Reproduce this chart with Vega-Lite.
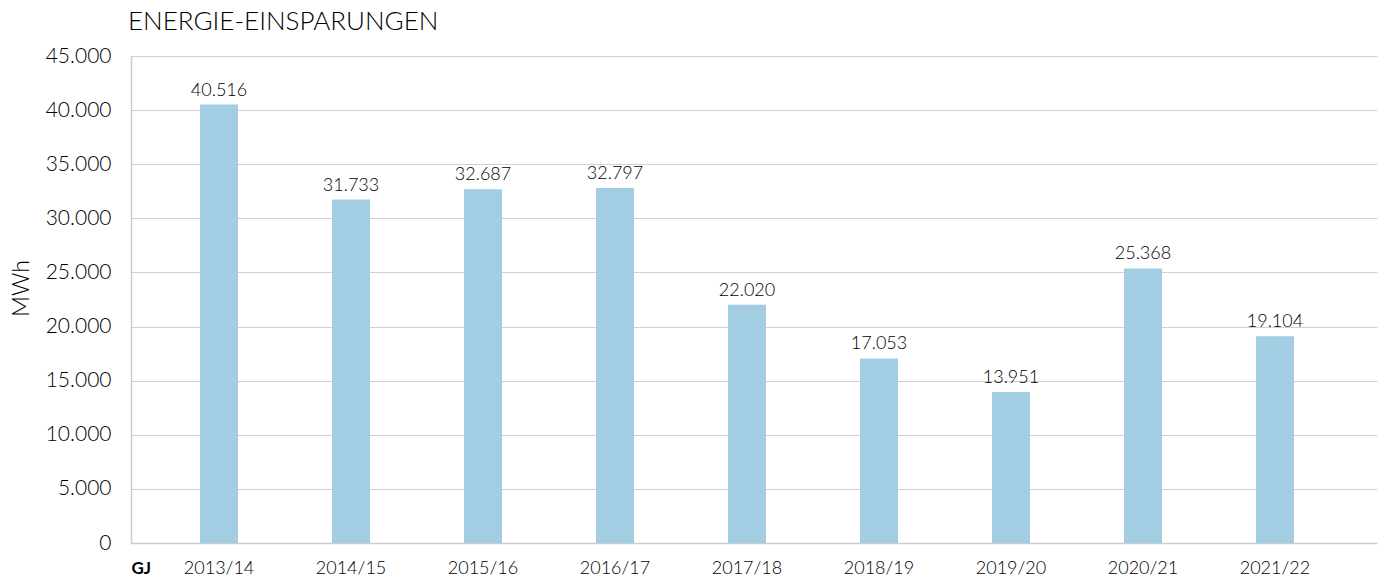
{
  "$schema": "https://vega.github.io/schema/vega-lite/v6.json",
  "width": 1246,
  "height": 487,
  "autosize": {"type": "none"},
  "padding": {"left": 131, "top": 56, "right": 7, "bottom": 35},
  "config": {
    "locale": {"number": {"decimal": ",", "thousands": ".", "grouping": [3], "currency": ["", " €"]}},
    "font": "Lato",
    "view": {"stroke": null}
  },
  "title": {
    "text": "ENERGIE-EINSPARUNGEN",
    "anchor": "start",
    "frame": "group",
    "fontSize": 26,
    "fontWeight": 300,
    "color": "#000000",
    "font": "Lato",
    "dx": -3,
    "offset": 10
  },
  "data": {
    "values": [
      {"jahr": "2013/14", "mwh": 40516},
      {"jahr": "2014/15", "mwh": 31733},
      {"jahr": "2015/16", "mwh": 32687},
      {"jahr": "2016/17", "mwh": 32797},
      {"jahr": "2017/18", "mwh": 22020},
      {"jahr": "2018/19", "mwh": 17053},
      {"jahr": "2019/20", "mwh": 13951},
      {"jahr": "2020/21", "mwh": 25368},
      {"jahr": "2021/22", "mwh": 19104}
    ]
  },
  "encoding": {
    "x": {
      "field": "jahr",
      "type": "nominal",
      "sort": null,
      "scale": {"paddingInner": 0.712, "paddingOuter": 0.576, "align": 0.454},
      "axis": {
        "title": "GJ",
        "titleFontWeight": "bold",
        "titleFontSize": 17,
        "titleColor": "#000000",
        "titleAnchor": "start",
        "titleAlign": "left",
        "titleBaseline": "top",
        "titleX": 0,
        "titleY": 17,
        "labelAngle": 0,
        "labelFontSize": 18,
        "labelFontWeight": 300,
        "labelColor": "#000000",
        "labelPadding": 16,
        "ticks": false,
        "domainColor": "#cccccc",
        "domainWidth": 1.5
      }
    },
    "y": {
      "field": "mwh",
      "type": "quantitative",
      "scale": {"domain": [0, 45000]},
      "axis": {
        "title": "MWh",
        "titleFontSize": 23,
        "titleFontWeight": 300,
        "titleColor": "#000000",
        "titleX": -110,
        "titleY": 232,
        "titleBaseline": "middle",
        "titleAlign": "center",
        "titleAngle": -90,
        "values": [0, 5000, 10000, 15000, 20000, 25000, 30000, 35000, 40000, 45000],
        "format": ",d",
        "labelFontSize": 21,
        "labelFontWeight": 300,
        "labelColor": "#000000",
        "labelPadding": 20,
        "ticks": false,
        "domainColor": "#cccccc",
        "domainWidth": 1.5,
        "gridColor": "#d0d0d0",
        "gridWidth": 1.2
      }
    }
  },
  "layer": [
    {"mark": {"type": "bar", "color": "#a2cde3"}},
    {
      "mark": {"type": "text", "baseline": "bottom", "dy": -5, "fontSize": 18, "fontWeight": 300, "color": "#000000"},
      "encoding": {"text": {"field": "mwh", "type": "quantitative", "format": ",d"}}
    }
  ]
}
